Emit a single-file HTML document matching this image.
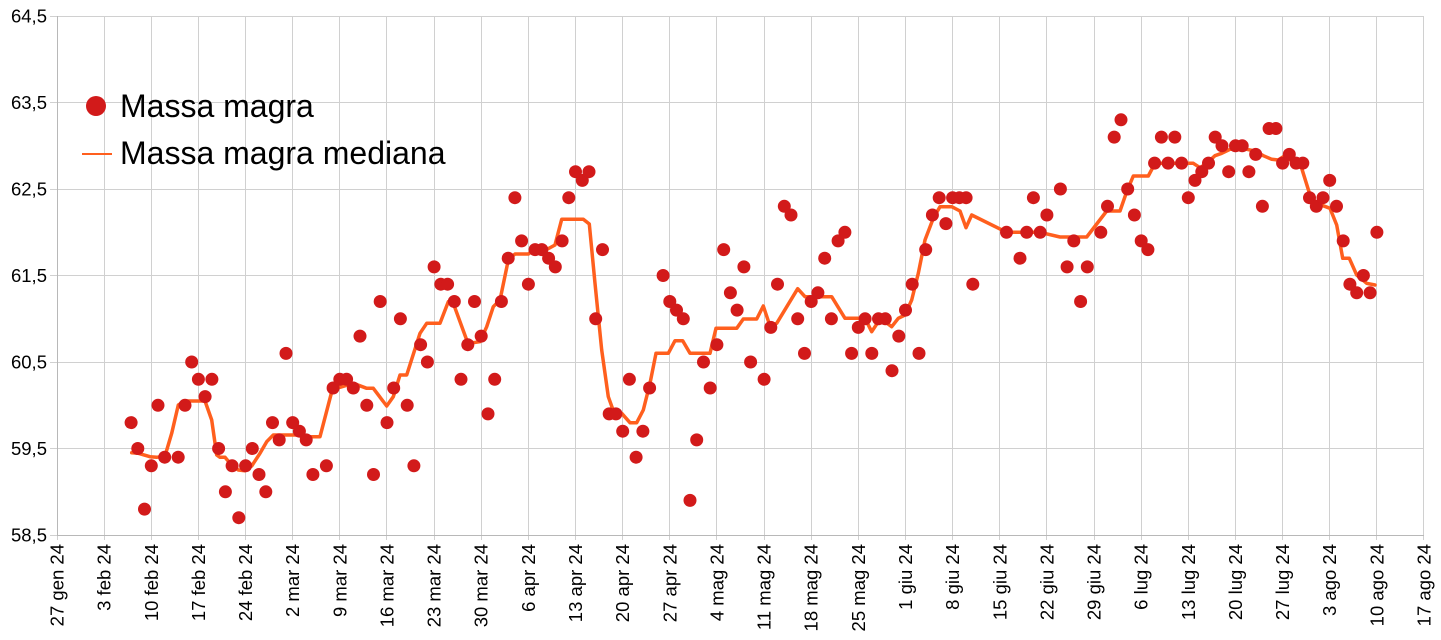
<!DOCTYPE html>
<html><head><meta charset="utf-8"><style>
html,body{margin:0;padding:0;background:#fff;}
svg{display:block;}
text{font-family:"Liberation Sans",Arial,sans-serif;fill:#000;}
</style></head><body>
<svg width="1441" height="640" viewBox="0 0 1441 640" xmlns="http://www.w3.org/2000/svg">
<rect width="1441" height="640" fill="#fff"/>
<g stroke="#d0d0d0" stroke-width="1" fill="none">
<path d="M57.5 16V540M104.5 16V540M151.5 16V540M198.5 16V540M245.5 16V540M292.5 16V540M339.5 16V540M386.5 16V540M434.5 16V540M481.5 16V540M528.5 16V540M575.5 16V540M622.5 16V540M669.5 16V540M716.5 16V540M764.5 16V540M811.5 16V540M858.5 16V540M905.5 16V540M952.5 16V540M999.5 16V540M1046.5 16V540M1094.5 16V540M1141.5 16V540M1188.5 16V540M1235.5 16V540M1282.5 16V540M1329.5 16V540M1376.5 16V540M1423.5 16V540"/>
<path d="M50 16.5H1424M50 102.5H1424M50 189.5H1424M50 275.5H1424M50 362.5H1424M50 448.5H1424M50 535.5H1424"/>
</g>
<g stroke="#b8b8b8" stroke-width="1"><path d="M57.5 16V536M57 535.5H1424"/></g>
<g font-size="18.5" text-anchor="end">
<text x="47" y="22.5">64,5</text>
<text x="47" y="109">63,5</text>
<text x="47" y="195.5">62,5</text>
<text x="47" y="282">61,5</text>
<text x="47" y="368.5">60,5</text>
<text x="47" y="455">59,5</text>
<text x="47" y="541.5">58,5</text>
</g>
<g font-size="18.5" text-anchor="end">
<text transform="translate(57,544) rotate(-90)" dy="0.35em">27 gen 24</text>
<text transform="translate(104.1,544) rotate(-90)" dy="0.35em">3 feb 24</text>
<text transform="translate(151.3,544) rotate(-90)" dy="0.35em">10 feb 24</text>
<text transform="translate(198.4,544) rotate(-90)" dy="0.35em">17 feb 24</text>
<text transform="translate(245.5,544) rotate(-90)" dy="0.35em">24 feb 24</text>
<text transform="translate(292.7,544) rotate(-90)" dy="0.35em">2 mar 24</text>
<text transform="translate(339.8,544) rotate(-90)" dy="0.35em">9 mar 24</text>
<text transform="translate(387,544) rotate(-90)" dy="0.35em">16 mar 24</text>
<text transform="translate(434.1,544) rotate(-90)" dy="0.35em">23 mar 24</text>
<text transform="translate(481.2,544) rotate(-90)" dy="0.35em">30 mar 24</text>
<text transform="translate(528.4,544) rotate(-90)" dy="0.35em">6 apr 24</text>
<text transform="translate(575.5,544) rotate(-90)" dy="0.35em">13 apr 24</text>
<text transform="translate(622.7,544) rotate(-90)" dy="0.35em">20 apr 24</text>
<text transform="translate(669.8,544) rotate(-90)" dy="0.35em">27 apr 24</text>
<text transform="translate(716.9,544) rotate(-90)" dy="0.35em">4 mag 24</text>
<text transform="translate(764.1,544) rotate(-90)" dy="0.35em">11 mag 24</text>
<text transform="translate(811.2,544) rotate(-90)" dy="0.35em">18 mag 24</text>
<text transform="translate(858.4,544) rotate(-90)" dy="0.35em">25 mag 24</text>
<text transform="translate(905.5,544) rotate(-90)" dy="0.35em">1 giu 24</text>
<text transform="translate(952.6,544) rotate(-90)" dy="0.35em">8 giu 24</text>
<text transform="translate(999.8,544) rotate(-90)" dy="0.35em">15 giu 24</text>
<text transform="translate(1046.9,544) rotate(-90)" dy="0.35em">22 giu 24</text>
<text transform="translate(1094,544) rotate(-90)" dy="0.35em">29 giu 24</text>
<text transform="translate(1141.2,544) rotate(-90)" dy="0.35em">6 lug 24</text>
<text transform="translate(1188.3,544) rotate(-90)" dy="0.35em">13 lug 24</text>
<text transform="translate(1235.5,544) rotate(-90)" dy="0.35em">20 lug 24</text>
<text transform="translate(1282.6,544) rotate(-90)" dy="0.35em">27 lug 24</text>
<text transform="translate(1329.7,544) rotate(-90)" dy="0.35em">3 ago 24</text>
<text transform="translate(1376.9,544) rotate(-90)" dy="0.35em">10 ago 24</text>
<text transform="translate(1424,544) rotate(-90)" dy="0.35em">17 ago 24</text>
</g>
<polyline fill="none" stroke="#ff5f1e" stroke-width="3.5" stroke-linejoin="round" stroke-linecap="round" points="131.7,452.7 138.3,453.3 150,456.7 156.7,457.3 165,456 171.7,433.3 178.3,405 185,401 205,401 211.7,420 216.7,455 220,457.3 225,457.3 230,463.3 238.3,470 245,470.7 251.7,466 260,453.3 266.7,441.7 273.3,435 300,435 306.7,436.7 320,436.7 332.7,388 340,387.3 353.3,383.3 366.7,388.3 373.3,388.3 386.7,406 393.3,396.7 400,375 406.7,375 420,333.3 426.7,323.3 440,323.3 448.3,301.7 453.3,303.3 466.7,340 473.3,342.7 480,341.7 486.7,326.7 493.3,306.7 500,300 508.3,260 515,254 528.3,254 535,249.5 546.7,249.5 555,245 561.7,219.3 583.3,219.3 589.3,224 595,283.3 601.7,350 608.3,396.7 613.3,410.7 621.7,413.3 630,422.7 636.7,422.7 643.3,410 650,383.3 656,353.3 668.3,353.3 675,340.7 682.7,340.7 690,353.3 710,353.3 716,328.3 736.7,328.3 743.3,319 756.7,319 763.3,306 770,326 776.7,323.3 797.7,288.7 805,296.7 831.7,296.7 845,318.3 865,318.3 871.7,331.7 878.3,321.7 885,321.7 891.7,326.7 898.3,318.3 905,315 911.7,300 918.3,273.3 925,240 933.3,218.3 940,206.7 951.7,206.7 960,211 966,227.7 971.7,215 1006.7,232.3 1040,232.3 1060,237 1086.7,237 1106.7,211 1120,211 1126.7,191.7 1133.3,176 1148.3,176 1155,163.3 1193.3,163.3 1200,167.7 1206.7,163.3 1215,155.7 1221.7,153.3 1230,149.3 1246.7,149.3 1255,151 1263.3,155.7 1271.7,159.3 1278.3,160 1283.3,156.7 1296.7,163.3 1301.7,168.3 1310,195 1316.7,203.3 1330,208.3 1336.7,225 1342.7,258.3 1349.3,258.3 1356.7,275 1366.7,283.3 1375,285"/>
<g fill="#d21a1a">
<circle cx="131.1" cy="422.6" r="6.5"/><circle cx="137.8" cy="448.5" r="6.5"/><circle cx="144.5" cy="509.1" r="6.5"/><circle cx="151.3" cy="465.8" r="6.5"/><circle cx="158" cy="405.3" r="6.5"/><circle cx="164.7" cy="457.2" r="6.5"/><circle cx="178.2" cy="457.2" r="6.5"/><circle cx="185" cy="405.3" r="6.5"/><circle cx="191.7" cy="362" r="6.5"/><circle cx="198.4" cy="379.3" r="6.5"/><circle cx="205.1" cy="396.6" r="6.5"/><circle cx="211.9" cy="379.3" r="6.5"/><circle cx="218.6" cy="448.5" r="6.5"/><circle cx="225.4" cy="491.8" r="6.5"/><circle cx="232.1" cy="465.8" r="6.5"/><circle cx="238.8" cy="517.7" r="6.5"/><circle cx="245.6" cy="465.8" r="6.5"/><circle cx="252.3" cy="448.5" r="6.5"/><circle cx="259" cy="474.5" r="6.5"/><circle cx="265.8" cy="491.8" r="6.5"/><circle cx="272.5" cy="422.6" r="6.5"/><circle cx="279.2" cy="439.9" r="6.5"/><circle cx="286" cy="353.4" r="6.5"/><circle cx="292.7" cy="422.6" r="6.5"/><circle cx="299.4" cy="431.2" r="6.5"/><circle cx="306.2" cy="439.9" r="6.5"/><circle cx="312.9" cy="474.5" r="6.5"/><circle cx="326.4" cy="465.8" r="6.5"/>
<circle cx="333.1" cy="388" r="6.5"/><circle cx="339.8" cy="379.3" r="6.5"/><circle cx="346.6" cy="379.3" r="6.5"/><circle cx="353.3" cy="388" r="6.5"/><circle cx="360" cy="336.1" r="6.5"/><circle cx="366.8" cy="405.3" r="6.5"/><circle cx="373.5" cy="474.5" r="6.5"/><circle cx="380.2" cy="301.5" r="6.5"/><circle cx="387" cy="422.6" r="6.5"/><circle cx="393.7" cy="388" r="6.5"/><circle cx="400.4" cy="318.8" r="6.5"/><circle cx="407.2" cy="405.3" r="6.5"/><circle cx="413.9" cy="465.8" r="6.5"/><circle cx="420.6" cy="344.7" r="6.5"/><circle cx="427.4" cy="362" r="6.5"/><circle cx="434.1" cy="266.9" r="6.5"/><circle cx="440.8" cy="284.2" r="6.5"/><circle cx="447.6" cy="284.2" r="6.5"/><circle cx="454.3" cy="301.5" r="6.5"/><circle cx="461" cy="379.3" r="6.5"/><circle cx="467.8" cy="344.7" r="6.5"/><circle cx="474.5" cy="301.5" r="6.5"/><circle cx="481.2" cy="336.1" r="6.5"/><circle cx="488" cy="413.9" r="6.5"/><circle cx="494.7" cy="379.3" r="6.5"/><circle cx="501.4" cy="301.5" r="6.5"/><circle cx="508.2" cy="258.2" r="6.5"/><circle cx="514.9" cy="197.7" r="6.5"/><circle cx="521.6" cy="240.9" r="6.5"/><circle cx="528.4" cy="284.2" r="6.5"/>
<circle cx="535.1" cy="249.6" r="6.5"/><circle cx="541.8" cy="249.6" r="6.5"/><circle cx="548.6" cy="258.2" r="6.5"/><circle cx="555.3" cy="266.9" r="6.5"/><circle cx="562.1" cy="240.9" r="6.5"/><circle cx="568.8" cy="197.7" r="6.5"/><circle cx="575.5" cy="171.7" r="6.5"/><circle cx="582.3" cy="180.4" r="6.5"/><circle cx="589" cy="171.7" r="6.5"/><circle cx="595.7" cy="318.8" r="6.5"/><circle cx="602.5" cy="249.6" r="6.5"/><circle cx="609.2" cy="413.9" r="6.5"/><circle cx="615.9" cy="413.9" r="6.5"/><circle cx="622.7" cy="431.2" r="6.5"/><circle cx="629.4" cy="379.3" r="6.5"/><circle cx="636.1" cy="457.2" r="6.5"/><circle cx="642.9" cy="431.2" r="6.5"/><circle cx="649.6" cy="388" r="6.5"/><circle cx="663.1" cy="275.5" r="6.5"/><circle cx="669.8" cy="301.5" r="6.5"/><circle cx="676.5" cy="310.1" r="6.5"/><circle cx="683.3" cy="318.8" r="6.5"/><circle cx="690" cy="500.4" r="6.5"/><circle cx="696.7" cy="439.9" r="6.5"/><circle cx="703.5" cy="362" r="6.5"/><circle cx="710.2" cy="388" r="6.5"/><circle cx="716.9" cy="344.7" r="6.5"/><circle cx="723.7" cy="249.6" r="6.5"/><circle cx="730.4" cy="292.8" r="6.5"/><circle cx="737.1" cy="310.1" r="6.5"/><circle cx="743.9" cy="266.9" r="6.5"/><circle cx="750.6" cy="362" r="6.5"/>
<circle cx="764.1" cy="379.3" r="6.5"/><circle cx="770.8" cy="327.4" r="6.5"/><circle cx="777.5" cy="284.2" r="6.5"/><circle cx="784.3" cy="206.3" r="6.5"/><circle cx="791" cy="215" r="6.5"/><circle cx="797.7" cy="318.8" r="6.5"/><circle cx="804.5" cy="353.4" r="6.5"/><circle cx="811.2" cy="301.5" r="6.5"/><circle cx="817.9" cy="292.8" r="6.5"/><circle cx="824.7" cy="258.2" r="6.5"/><circle cx="831.4" cy="318.8" r="6.5"/><circle cx="838.1" cy="240.9" r="6.5"/><circle cx="844.9" cy="232.3" r="6.5"/><circle cx="851.6" cy="353.4" r="6.5"/><circle cx="858.3" cy="327.4" r="6.5"/><circle cx="865.1" cy="318.8" r="6.5"/><circle cx="871.8" cy="353.4" r="6.5"/><circle cx="878.5" cy="318.8" r="6.5"/><circle cx="885.3" cy="318.8" r="6.5"/><circle cx="892" cy="370.7" r="6.5"/><circle cx="898.8" cy="336.1" r="6.5"/><circle cx="905.5" cy="310.1" r="6.5"/><circle cx="912.2" cy="284.2" r="6.5"/><circle cx="919" cy="353.4" r="6.5"/><circle cx="925.7" cy="249.6" r="6.5"/><circle cx="932.4" cy="215" r="6.5"/><circle cx="939.2" cy="197.7" r="6.5"/><circle cx="945.9" cy="223.6" r="6.5"/><circle cx="952.6" cy="197.7" r="6.5"/><circle cx="959.4" cy="197.7" r="6.5"/><circle cx="966.1" cy="197.7" r="6.5"/><circle cx="972.8" cy="284.2" r="6.5"/>
<circle cx="1006.5" cy="232.3" r="6.5"/><circle cx="1020" cy="258.2" r="6.5"/><circle cx="1026.7" cy="232.3" r="6.5"/><circle cx="1033.4" cy="197.7" r="6.5"/><circle cx="1040.2" cy="232.3" r="6.5"/><circle cx="1046.9" cy="215" r="6.5"/><circle cx="1060.4" cy="189" r="6.5"/><circle cx="1067.1" cy="266.9" r="6.5"/><circle cx="1073.8" cy="240.9" r="6.5"/><circle cx="1080.6" cy="301.5" r="6.5"/><circle cx="1087.3" cy="266.9" r="6.5"/><circle cx="1100.8" cy="232.3" r="6.5"/><circle cx="1107.5" cy="206.3" r="6.5"/><circle cx="1114.2" cy="137.1" r="6.5"/><circle cx="1121" cy="119.8" r="6.5"/><circle cx="1127.7" cy="189" r="6.5"/><circle cx="1134.4" cy="215" r="6.5"/><circle cx="1141.2" cy="240.9" r="6.5"/><circle cx="1147.9" cy="249.6" r="6.5"/><circle cx="1154.6" cy="163.1" r="6.5"/><circle cx="1161.4" cy="137.1" r="6.5"/><circle cx="1168.1" cy="163.1" r="6.5"/><circle cx="1174.8" cy="137.1" r="6.5"/><circle cx="1181.6" cy="163.1" r="6.5"/><circle cx="1188.3" cy="197.7" r="6.5"/><circle cx="1195" cy="180.4" r="6.5"/><circle cx="1201.8" cy="171.7" r="6.5"/><circle cx="1208.5" cy="163.1" r="6.5"/><circle cx="1215.2" cy="137.1" r="6.5"/><circle cx="1222" cy="145.8" r="6.5"/><circle cx="1228.7" cy="171.7" r="6.5"/><circle cx="1235.5" cy="145.8" r="6.5"/><circle cx="1242.2" cy="145.8" r="6.5"/><circle cx="1248.9" cy="171.7" r="6.5"/><circle cx="1255.7" cy="154.4" r="6.5"/><circle cx="1262.4" cy="206.3" r="6.5"/><circle cx="1269.1" cy="128.5" r="6.5"/><circle cx="1275.9" cy="128.5" r="6.5"/><circle cx="1282.6" cy="163.1" r="6.5"/><circle cx="1289.3" cy="154.4" r="6.5"/><circle cx="1296.1" cy="163.1" r="6.5"/><circle cx="1302.8" cy="163.1" r="6.5"/><circle cx="1309.5" cy="197.7" r="6.5"/><circle cx="1316.3" cy="206.3" r="6.5"/><circle cx="1323" cy="197.7" r="6.5"/><circle cx="1329.7" cy="180.4" r="6.5"/><circle cx="1336.5" cy="206.3" r="6.5"/><circle cx="1343.2" cy="240.9" r="6.5"/><circle cx="1349.9" cy="284.2" r="6.5"/><circle cx="1356.7" cy="292.8" r="6.5"/><circle cx="1363.4" cy="275.5" r="6.5"/><circle cx="1370.1" cy="292.8" r="6.5"/><circle cx="1376.9" cy="232.3" r="6.5"/>
</g>
<circle cx="96" cy="106" r="10" fill="#d21a1a"/>
<text x="120" y="117" font-size="32">Massa magra</text>
<line x1="82" y1="154" x2="112" y2="154" stroke="#ff5f1e" stroke-width="2"/>
<text x="120" y="164" font-size="32">Massa magra mediana</text>
</svg>
</body></html>
